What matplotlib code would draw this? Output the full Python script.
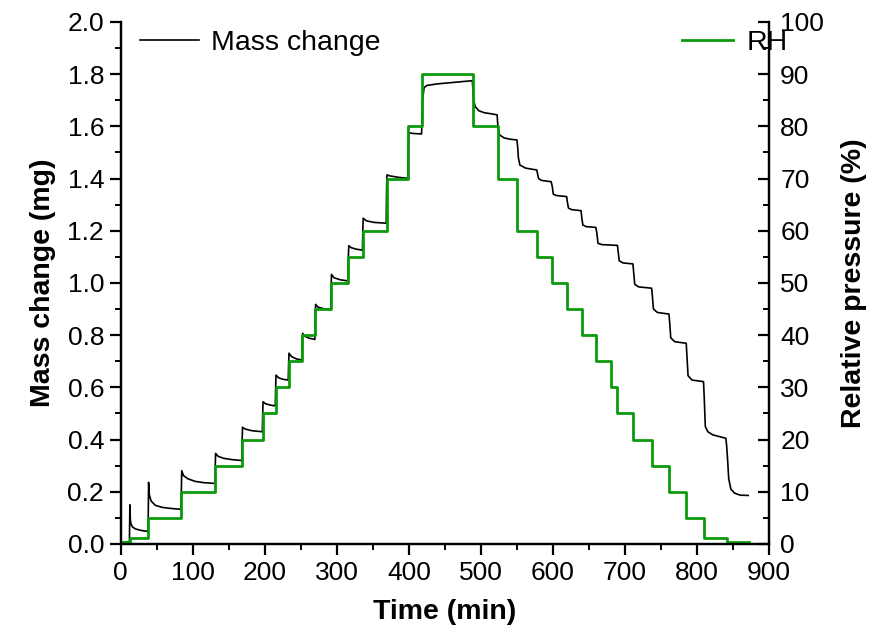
import matplotlib.pyplot as plt
from matplotlib.ticker import MultipleLocator

# mass change trace (min, mg)
time = [0, 12, 12.6, 13.2, 14, 16, 20, 28, 37.6,
        38.1, 38.6, 39.5, 42, 48, 58, 70, 83.6,
        84.1, 84.6, 87, 93, 103, 115, 130.6,
        131.1, 131.6, 135, 143, 155, 168,
        168.5, 169, 173, 182, 196.5,
        197, 197.5, 201, 208, 214.5,
        215, 215.5, 219, 225, 232.5,
        233, 233.5, 237, 244, 251.5,
        252, 252.5, 256, 262, 269.5,
        270, 270.5, 274, 282, 291.5,
        292, 292.5, 296, 305, 315.5,
        316, 316.5, 320, 328, 335.5,
        336, 336.5, 341, 352, 368.5,
        369, 369.5, 374, 385, 398.5,
        399, 400, 405, 417.5,
        418, 419, 421, 425, 440, 460, 475, 488,
        489, 490, 492, 497, 505, 515, 522.5,
        523, 524, 526, 532, 540, 550,
        551, 552, 554, 562, 577.5,
        578.5, 580, 584, 597.5,
        599, 600.5, 605, 619,
        620, 621.5, 626, 639,
        640, 641.5, 646, 659.5,
        661, 662.5, 668, 689.5,
        690.5, 692, 697, 711,
        712, 713.5, 719, 737,
        738, 739.5, 745, 761,
        762, 763.5, 769, 785,
        786, 787.5, 793, 809,
        810, 811.5, 815, 822, 840,
        841, 842.5, 844, 847, 852, 860, 871]
mass = [0.005, 0.008, 0.150, 0.095, 0.078, 0.066, 0.058, 0.052, 0.048,
        0.10, 0.236, 0.190, 0.165, 0.148, 0.140, 0.136, 0.133,
        0.20, 0.281, 0.262, 0.250, 0.240, 0.235, 0.232,
        0.29, 0.347, 0.336, 0.328, 0.323, 0.320,
        0.40, 0.447, 0.440, 0.434, 0.430,
        0.50, 0.545, 0.537, 0.532, 0.529,
        0.60, 0.647, 0.637, 0.631, 0.628,
        0.69, 0.731, 0.718, 0.709, 0.705,
        0.77, 0.807, 0.795, 0.788, 0.784,
        0.87, 0.918, 0.907, 0.901, 0.899,
        0.98, 1.033, 1.020, 1.012, 1.008,
        1.10, 1.143, 1.135, 1.129, 1.126,
        1.20, 1.248, 1.238, 1.232, 1.229,
        1.36, 1.414, 1.410, 1.405, 1.401,
        1.50, 1.576, 1.573, 1.571,
        1.60, 1.700, 1.748, 1.757, 1.763, 1.768, 1.772, 1.775,
        1.74, 1.700, 1.676, 1.660, 1.652, 1.648, 1.644,
        1.62, 1.590, 1.567, 1.556, 1.551, 1.548,
        1.52, 1.480, 1.452, 1.440, 1.433,
        1.42, 1.400, 1.393, 1.388,
        1.37, 1.340, 1.335, 1.331,
        1.31, 1.287, 1.281, 1.277,
        1.25, 1.222, 1.216, 1.213,
        1.19, 1.152, 1.147, 1.144,
        1.12, 1.085, 1.077, 1.073,
        1.04, 0.995, 0.985, 0.980,
        0.95, 0.900, 0.887, 0.881,
        0.85, 0.790, 0.775, 0.769,
        0.72, 0.645, 0.628, 0.622,
        0.56, 0.450, 0.430, 0.418, 0.405,
        0.38, 0.320, 0.250, 0.210, 0.195, 0.187, 0.186]

# relative humidity program (step starts, %)
rh_time = [0, 12.5, 38, 84, 131, 168.5, 197, 215, 233, 252, 270, 292, 316, 336,
           369, 399, 418, 489, 523, 550, 578, 598, 619, 640, 660, 680, 689, 711,
           737, 761, 784, 809, 841, 872]
rh = [0.3, 1.2, 5, 10, 15, 20, 25, 30, 35, 40, 45, 50, 55, 60,
      70, 80, 90, 80, 70, 60, 55, 50, 45, 40, 35, 30, 25, 20,
      15, 10, 5, 1.1, 0.3, 0.3]

plt.rcParams['font.family'] = ['Liberation Sans', 'DejaVu Sans']

fig = plt.figure(figsize=(8.69, 6.39), dpi=100)
ax1 = fig.add_axes([0.139, 0.1487, 0.746, 0.8169])
ax2 = ax1.twinx()

ax1.plot(time, mass, color='black', lw=1.2, label='Mass change')
ax2.plot(rh_time, rh, color='#0c9a0c', lw=2.0, drawstyle='steps-post', label='RH')

ax1.set_xlim(0, 900)
ax1.set_ylim(0, 2.0)
ax2.set_ylim(0, 100)

ax1.xaxis.set_major_locator(MultipleLocator(100))
ax1.xaxis.set_minor_locator(MultipleLocator(50))
ax1.yaxis.set_major_locator(MultipleLocator(0.2))
ax1.yaxis.set_minor_locator(MultipleLocator(0.1))
ax2.yaxis.set_major_locator(MultipleLocator(10))
ax2.yaxis.set_minor_locator(MultipleLocator(5))
ax1.yaxis.set_major_formatter(plt.FormatStrFormatter('%.1f'))

for ax in (ax1, ax2):
    ax.spines['top'].set_visible(False)
    for s in ('left', 'right', 'bottom'):
        ax.spines[s].set_linewidth(1.6)

ax1.tick_params(axis='both', which='major', direction='out', length=8, width=1.6, pad=4, labelsize=19)
ax1.tick_params(axis='both', which='minor', direction='out', length=4, width=1.4)
ax2.tick_params(axis='y', which='major', direction='in', length=8, width=1.6, pad=8, labelsize=19)
ax2.tick_params(axis='y', which='minor', direction='in', length=4, width=1.4)

ax1.set_xlabel('Time (min)', fontsize=20.5, fontweight='bold', labelpad=10)
ax1.set_ylabel('Mass change (mg)', fontsize=20.5, fontweight='bold', labelpad=8)
ax2.set_ylabel('Relative pressure (%)', fontsize=20.5, fontweight='bold', labelpad=12)

ax1.legend(loc='upper left', bbox_to_anchor=(0.029, 0.985), frameon=False,
           fontsize=20.5, borderpad=0, borderaxespad=0, handlelength=2.1, handletextpad=0.4)
ax2.legend(loc='upper left', bbox_to_anchor=(0.866, 0.985), frameon=False,
           fontsize=20.5, borderpad=0, borderaxespad=0, handlelength=1.8, handletextpad=0.45)

plt.savefig('out.png', dpi=100)
